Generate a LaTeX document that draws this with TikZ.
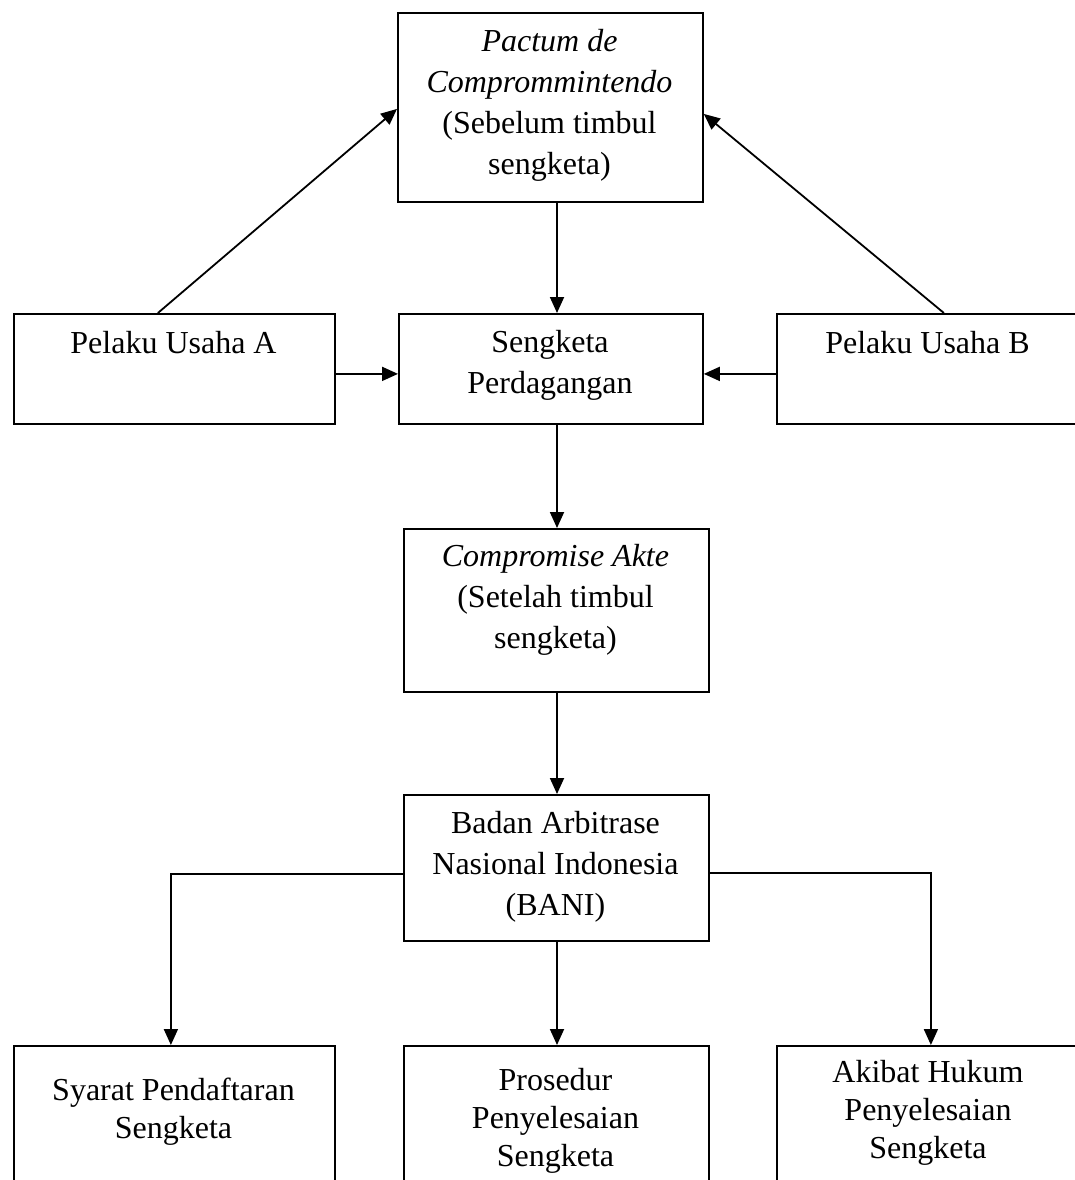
\documentclass[tikz,border=0pt]{standalone}
\usepackage{fontspec}
\setmainfont{Liberation Serif}
\usetikzlibrary{arrows.meta,calc}
\tikzset{
  boxnode/.style={draw, line width=1.8pt, inner sep=0pt, anchor=north west},
  txt/.style={align=center, inner sep=0pt, font=\fontsize{32}{41}\selectfont},
  txtb/.style={align=center, inner sep=0pt, font=\fontsize{32}{38}\selectfont},
  arr/.style={line width=1.8pt, -{Triangle[length=16pt,width=14pt]}}
}
\begin{document}
\begin{tikzpicture}[x=1pt,y=-1pt]
\useasboundingbox (0,0) rectangle (1075,1180);
\clip (0,0) rectangle (1075,1180);
% boxes
\node[boxnode, minimum width=305pt, minimum height=189pt] (P) at (397,12) {};
\node[boxnode, minimum width=321pt, minimum height=110pt] (A) at (13,313) {};
\node[boxnode, minimum width=304pt, minimum height=110pt] (S) at (398,313) {};
\node[boxnode, minimum width=304pt, minimum height=110pt] (B) at (776,313) {};
\node[boxnode, minimum width=305pt, minimum height=163pt] (C) at (403,528) {};
\node[boxnode, minimum width=305pt, minimum height=146pt] (N) at (403,794) {};
\node[boxnode, minimum width=321pt, minimum height=160pt] (L1) at (13,1045) {};
\node[boxnode, minimum width=305pt, minimum height=160pt] (M1) at (403,1045) {};
\node[boxnode, minimum width=304pt, minimum height=160pt] (R1) at (776,1045) {};
% texts
\node[txt] (Pt) at (549.5,105.5) {\textit{Pactum de}\\\textit{Comprommintendo}\\(Sebelum timbul\\sengketa)};
\node[txt] (At) at (173.5,343) {Pelaku Usaha A};
\node[txt] (St) at (550,365) {Sengketa\\Perdagangan};
\node[txt] (Bt) at (927.5,343) {Pelaku Usaha B};
\node[txt] (Ct) at (555.5,600) {\textit{Compromise Akte}\\(Setelah timbul\\sengketa)};
\node[txt] (Nt) at (555.5,867) {Badan Arbitrase\\Nasional Indonesia\\(BANI)};
\node[txtb] (L1t) at (173.5,1111.5) {Syarat Pendaftaran\\Sengketa};
\node[txtb] (M1t) at (555.5,1121) {Prosedur\\Penyelesaian\\Sengketa};
\node[txtb] (R1t) at (928,1112.5) {Akibat Hukum\\Penyelesaian\\Sengketa};
% column coordinate
\coordinate (col) at (557,0);
% connectors
\draw[arr] ([xshift=-16.5pt]A.north) -- ([yshift=-1.5pt]P.west);
\draw[arr] ([xshift=15pt]B.north) -- ([yshift=-6.5pt]P.east);
\draw[arr] (P.south -| col) -- (S.north -| col);
\draw[arr] ([yshift=-5pt]A.east) -- ([yshift=-5pt]S.west);
\draw[arr] ([yshift=-5pt]B.west) -- ([yshift=-5pt]S.east);
\draw[arr] (S.south -| col) -- (C.north -| col);
\draw[arr] (C.south -| col) -- (N.north -| col);
\draw[arr] (N.south -| col) -- (M1.north -| col);
\draw[arr] ([yshift=-6pt]N.west) -| ([xshift=-3.5pt]L1.north);
\draw[arr] ([yshift=-5pt]N.east) -| ([xshift=2pt]R1.north);
\end{tikzpicture}
\end{document}
